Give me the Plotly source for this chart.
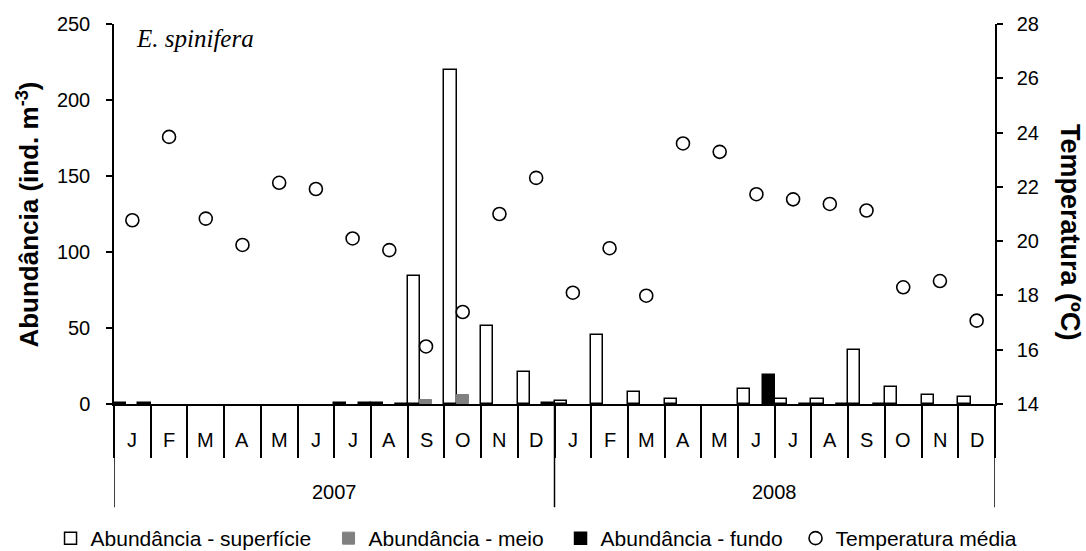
import numpy as np
import plotly.graph_objects as go

# Monthly sampling, Jan 2007 – Dec 2008
months = ["J", "F", "M", "A", "M", "J", "J", "A", "S", "O", "N", "D"] * 2
years = ["2007", "2008"]

# Abundance (ind. m-3) per depth layer; None = no catch
abund_superficie = [0.5, None, None, None, None, None, 0.5, 0.5, 84, 220, 51, 20.8,
                    2.3, 45.5, 7.6, 3.3, None, 9.9, 3.3, 3.3, 35.7, 10.9, 5.6, 4.3]
abund_meio = [None, None, None, None, None, None, None, None, 2.6, 6, None, None,
              None, None, None, None, None, None, None, None, None, None, None, None]
abund_fundo = [0.5, None, None, None, None, None, 0.5, 0.15, None, None, None, 0.5,
               None, None, None, None, None, 18.8, 0.15, 0.15, 0.15, None, None, None]

# Mean water temperature (ºC)
temperatura = [20.77, 23.84, 20.83, 19.86, 22.15, 21.92, 20.1, 19.67, 16.12, 17.39, 21.0, 22.33,
               18.1, 19.74, 17.99, 23.6, 23.29, 21.73, 21.54, 21.37, 21.13, 18.3, 18.53, 17.07]

FONT = "Liberation Sans, Arial, sans-serif"
W, H = 1086, 551
L, R, T, B = 113.5, 91, 23.7, 146.7
PW, PH = W - L - R, H - T - B
n = len(months)
x = np.arange(n)


def px_to_paper(px, py):
    return (px - L) / PW, (H - B - py) / PH


fig = go.Figure()
fig.add_trace(go.Bar(x=x, y=abund_superficie, name="Abundância - superfície", legendwidth=233,
                     marker=dict(color="white", line=dict(color="black", width=1.5))))
fig.add_trace(go.Bar(x=x, y=abund_meio, name="Abundância - meio", legendwidth=187,
                     marker=dict(color="#808080", line=dict(color="#808080", width=1))))
fig.add_trace(go.Bar(x=x, y=abund_fundo, name="Abundância - fundo", legendwidth=190,
                     marker=dict(color="black", line=dict(color="black", width=1.5))))
fig.add_trace(go.Scatter(x=x, y=temperatura, name="Temperatura média", mode="markers",
                         yaxis="y2", legendwidth=186,
                         marker=dict(symbol="circle", size=13, color="white",
                                     line=dict(color="black", width=1.6))))

# month labels under each slot, years under each block of 12
annotations = []
for i, m in enumerate(months):
    annotations.append(dict(x=i, y=0, xref="x", yref="paper", text=m, showarrow=False,
                            yanchor="middle", yshift=-36, font=dict(size=20, color="black", family=FONT)))
for k, yr in enumerate(years):
    annotations.append(dict(x=k * 12 + 5.5, y=0, xref="x", yref="paper", text=yr, showarrow=False,
                            yanchor="middle", yshift=-88, font=dict(size=20, color="black", family=FONT)))

lx, ly = px_to_paper(28, 215)
rx, ry = px_to_paper(1070, 232)
sx, sy = px_to_paper(134, 38)
annotations += [
    dict(x=lx, y=ly, xref="paper", yref="paper", text="<b>Abundância (ind. m<sup>-3</sup>)</b>",
         textangle=-90, showarrow=False, xanchor="center", yanchor="middle",
         font=dict(size=26, color="black", family=FONT)),
    dict(x=rx, y=ry, xref="paper", yref="paper", text="<b>Temperatura (ºC)</b>",
         textangle=90, showarrow=False, xanchor="center", yanchor="middle",
         font=dict(size=27, color="black", family=FONT)),
    dict(x=sx, y=sy, xref="paper", yref="paper", text="<i>E. spinifera</i>",
         showarrow=False, xanchor="left", yanchor="middle",
         font=dict(size=25, color="black", family="Liberation Serif, Times New Roman, serif")),
]

# year separators reaching down through the year row
shapes = []
_, sep_bottom = px_to_paper(0, 507.7)
for b in range(0, n + 1, 12):
    shapes.append(dict(type="line", xref="x", yref="paper", x0=b - 0.5, x1=b - 0.5,
                       y0=0, y1=sep_bottom, line=dict(color="black", width=1.5)))

leg_x, leg_y = px_to_paper(50, 539)
fig.update_layout(
    width=W, height=H,
    margin=dict(l=L, r=R, t=T, b=B, autoexpand=False),
    paper_bgcolor="white", plot_bgcolor="white",
    barmode="group", bargap=0, bargroupgap=0,
    font=dict(family=FONT, size=20, color="black"),
    showlegend=True,
    legend=dict(orientation="h", xref="paper", yref="paper",
                x=leg_x, y=leg_y, xanchor="left", yanchor="middle",
                font=dict(size=21, family=FONT, color="black"), itemwidth=30,
                bgcolor="rgba(0,0,0,0)"),
    xaxis=dict(range=[-0.5, n - 0.5], tickvals=list(np.arange(n + 1) - 0.5),
               showticklabels=False, ticks="outside", ticklen=52, tickwidth=1.5,
               tickcolor="black", showline=True, linecolor="black", linewidth=1.5,
               showgrid=False, zeroline=False, fixedrange=True),
    yaxis=dict(range=[0, 250], dtick=50, tick0=0, ticks="outside", ticklen=6, tickwidth=1.5,
               tickcolor="black", showline=True, linecolor="black", linewidth=1.5,
               showgrid=False, zeroline=False, ticklabelstandoff=12,
               tickfont=dict(size=20, family=FONT, color="black")),
    yaxis2=dict(range=[14, 28], dtick=2, tick0=14, overlaying="y", side="right",
                ticks="outside", ticklen=6, tickwidth=1.5, tickcolor="black",
                showline=True, linecolor="black", linewidth=1.5, showgrid=False,
                zeroline=False, ticklabelstandoff=10,
                tickfont=dict(size=20, family=FONT, color="black")),
    annotations=annotations,
    shapes=shapes,
)

fig.write_html("out.html")
